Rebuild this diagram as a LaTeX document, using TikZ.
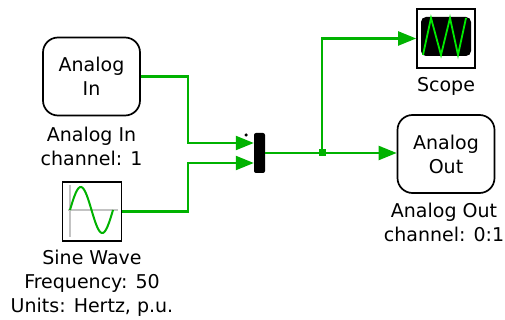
\documentclass[tikz,border=0pt]{standalone}
\usepackage{fontspec}
\setmainfont{DejaVu Sans}
\usetikzlibrary{arrows.meta}
\definecolor{sigGreen}{RGB}{0,178,0}
\definecolor{traceGreen}{RGB}{0,235,0}
\definecolor{axisGray}{RGB}{195,195,195}
\begin{document}
\begin{tikzpicture}[x=1pt,y=-1pt,
    block/.style={draw,line width=1.7pt,rounded corners=15pt,minimum width=97pt,
      minimum height=78pt,align=center,font=\fontsize{19}{24}\selectfont},
    icon/.style={draw,line width=1.7pt,inner sep=0pt,minimum height=59pt},
    caption/.style={anchor=north,align=center,inner sep=0pt,
      font=\fontsize{19}{24}\selectfont},
    signal/.style={sigGreen,line width=2.2pt},
    feed/.style={signal,-{Triangle[length=18pt,width=14pt]}}]
  \useasboundingbox (0,0) rectangle (505,320);
  % Blocks
  \node[block] (ain) at (91.5,76.5) {Analog\\In};
  \node[block] (aout) at (446,154) {Analog\\Out};
  \node[icon,minimum width=59pt] (sine) at (92,211.5) {};
  \node[icon,minimum width=58pt] (scope) at (446,38.5) {};
  \node[fill=black,rounded corners=2pt,minimum width=11pt,minimum height=40pt,
    inner sep=0pt] (mux) at (259.5,153) {};
  \node[circle,fill=black,inner sep=0pt,minimum size=3.5pt] (muxdot) at (246,135) {};
  % Captions
  \node[caption] (ainlabel) at (91.5,126.5) {Analog In\\channel: 1};
  \node[caption] (sinelabel) at (92,250) {Sine Wave\\Frequency: 50\\Units: Hertz, p.u.};
  \node[caption] (scopelabel) at (446,77) {Scope};
  \node[caption] (aoutlabel) at (444,203) {Analog Out\\channel: 0:1};
  % Sine icon
  \draw[axisGray,line width=1.4pt] (70,185) -- (70,237);
  \draw[axisGray,line width=1.4pt] (68,210) -- (118,210);
  \draw[sigGreen,line width=2pt,domain=0:360,samples=40,smooth]
    plot ({70+43*\x/360},{210-23*sin(\x)});
  % Scope display
  \fill[black,rounded corners=5pt] (421,17) rectangle (471,56);
  \draw[traceGreen,line width=1.8pt]
    (423,55) -- (431,18) -- (441,55) -- (450,18) -- (458,55) -- (466,18);
  % Wires
  \coordinate (split) at (322,153);
  \draw[feed] (ain.east) -- ++(47,0) |- ([yshift=10pt]mux.west);
  \draw[feed] (sine.east) -- ++(66,0) |- ([yshift=-10pt]mux.west);
  \draw[signal] (mux.east) -- (split);
  \draw[feed] (split) -- (split -| aout.west);
  \draw[feed] (split) |- (scope.west);
  \fill[sigGreen] (split) +(-3.5,-3.5) rectangle +(3.5,3.5);
\end{tikzpicture}
\end{document}
